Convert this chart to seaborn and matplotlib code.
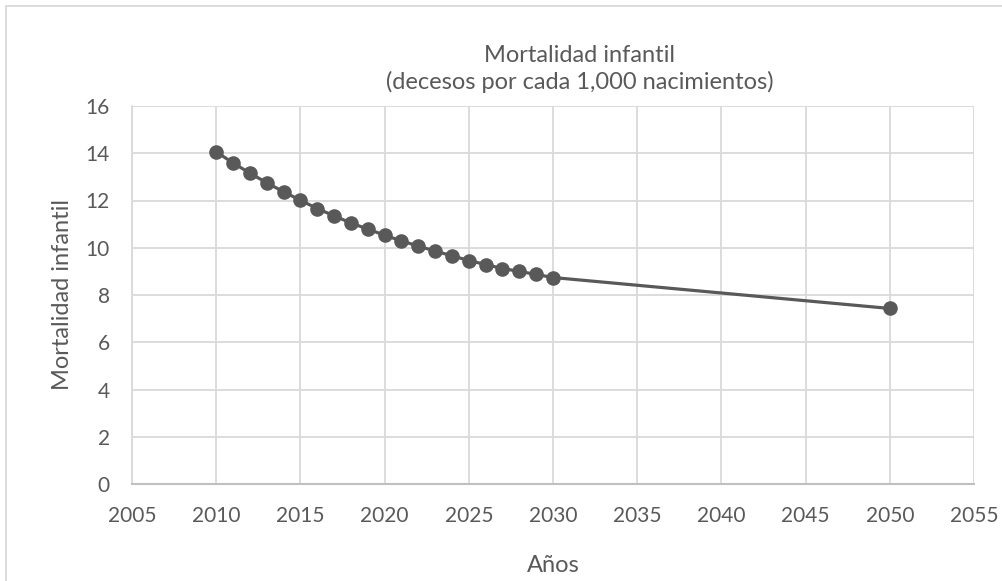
import matplotlib
matplotlib.use("Agg")
import matplotlib.pyplot as plt
import seaborn as sns
import pandas as pd
from matplotlib.patches import Rectangle

# values
years = list(range(2010, 2031)) + [2050]
mortalidad = [14.06, 13.59, 13.16, 12.75, 12.37, 12.01, 11.66, 11.35, 11.05, 10.79,
              10.53, 10.29, 10.07, 9.86, 9.66, 9.46, 9.29, 9.12, 9.00, 8.87,
              8.74, 7.43]
x_ticks = list(range(2005, 2056, 5))
y_ticks = list(range(0, 17, 2))

df = pd.DataFrame({"anio": years, "valor": mortalidad})

sns.set_theme(style="white")
plt.rcParams['font.family'] = ['Lato', 'DejaVu Sans']
text_color = "#595959"

fig = plt.figure(figsize=(10.03, 5.81), dpi=100)
ax = fig.add_axes([132 / 1003, 1 - 484 / 581, 842 / 1003, 378 / 581])

sns.lineplot(data=df, x="anio", y="valor", ax=ax, color="#595959",
             linewidth=2.3, marker="o", markersize=10.5, markeredgewidth=0)

ax.set_xlim(2005, 2055)
ax.set_ylim(0, 16)
ax.set_xticks(x_ticks)
ax.set_yticks(y_ticks)
ax.grid(True, color="#d9d9d9", linewidth=1.3)
ax.set_axisbelow(True)
for side in ["top", "right"]:
    ax.spines[side].set_visible(False)
ax.spines["left"].set_color("#d9d9d9")
ax.spines["left"].set_linewidth(1.3)
ax.spines["bottom"].set_color("#bfbfbf")
ax.spines["bottom"].set_linewidth(1.5)
ax.tick_params(axis="x", length=0, pad=16, labelsize=15, labelcolor=text_color)
ax.tick_params(axis="y", length=0, pad=16, labelsize=15, labelcolor=text_color)

ax.set_xlabel("Años", fontsize=17, color=text_color, labelpad=21)
ax.set_ylabel("Mortalidad infantil", fontsize=17, color=text_color, labelpad=9)

fig.text(580 / 1003, 1 - 69 / 581,
         "Mortalidad infantil\n(decesos por cada 1,000 nacimientos)",
         ha="center", va="center", fontsize=17, color=text_color, linespacing=1.23)

# chart area border like the spreadsheet frame
fig.patches.append(Rectangle((6 / 1003, -0.1), 1.2, 1 - 6 / 581 + 0.1,
                             transform=fig.transFigure, fill=False,
                             edgecolor="#d9d9d9", linewidth=1.3))

fig.savefig("out.png", dpi=100)
